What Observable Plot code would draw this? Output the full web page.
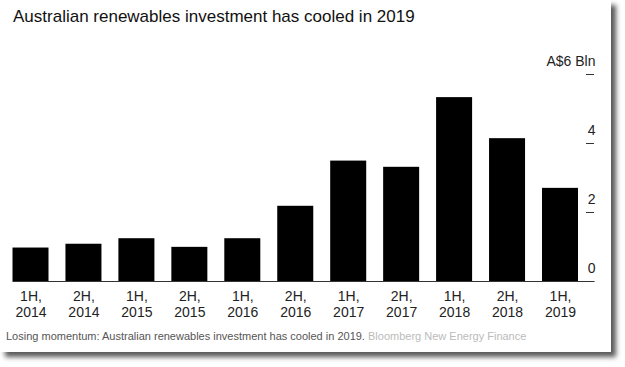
<!DOCTYPE html>
<html>
<head>
<meta charset="utf-8">
<script src="https://cdn.jsdelivr.net/npm/d3@7"></script>
<script src="https://cdn.jsdelivr.net/npm/@observablehq/plot@0.6"></script>
<style>
  html, body { margin: 0; padding: 0; background: #fff; }
  body { font-family: "Liberation Sans", Arial, Helvetica, sans-serif; }
  #card { position: absolute; left: 0; top: 0; width: 611px; height: 352px; background: #fff;
          box-shadow: 5px 5px 5px rgba(0,0,0,0.65); }
  #title { position: absolute; left: 13px; top: 8px; font-size: 17px; line-height: 17px; color: #111; white-space: nowrap; }
  #chart { position: absolute; left: 0; top: 30px; }
  #caption { position: absolute; left: 6px; top: 331px; font-size: 11px; line-height: 11px; color: #555; white-space: nowrap; }
  #caption .src { color: #bbb; }
</style>
</head>
<body>
<div id="card">
  <div id="title">Australian renewables investment has cooled in 2019</div>
  <div id="chart"></div>
  <div id="caption">Losing momentum: Australian renewables investment has cooled in 2019. <span class="src">Bloomberg New Energy Finance</span></div>
</div>
<script>
const halves = ["1H", "2H", "1H", "2H", "1H", "2H", "1H", "2H", "1H", "2H", "1H"];
const years = [2014, 2014, 2015, 2015, 2016, 2016, 2017, 2017, 2018, 2018, 2019];
const values = [0.97, 1.08, 1.24, 0.99, 1.24, 2.18, 3.49, 3.31, 5.33, 4.14, 2.70];
const yTicks = [0, 2, 4, 6];
const yTickLabels = ["0", "2", "4", "A$6 Bln"];

const data = halves.map((h, i) => ({ key: `${h},\n${years[i]}`, value: values[i] }));
const keys = data.map(d => d.key);

const W = 611, H = 295, ML = 12.5, MR = 33;
const chart = Plot.plot({
  width: W,
  height: H,
  marginLeft: ML,
  marginRight: MR,
  marginTop: 44,
  marginBottom: 44,
  style: { fontFamily: '"Liberation Sans", Arial, Helvetica, sans-serif', fontSize: "14px", color: "#222", background: "transparent" },
  x: { type: "band", domain: keys, paddingInner: 0.32, paddingOuter: 0, round: false, axis: null },
  y: { domain: [0, 6], axis: null },
  marks: [
    Plot.barY(data, { x: "key", y: "value", fill: "#000" }),
    Plot.ruleY([0], { stroke: "#333", strokeWidth: 1, insetRight: -16.5 }),
    Plot.ruleY(yTicks.slice(1), { stroke: "#333", strokeWidth: 1, insetLeft: 586 - ML, insetRight: -16 }),
    Plot.text(yTicks, { y: d => d, text: (d, i) => yTickLabels[i], frameAnchor: "right", textAnchor: "end", dx: 17, dy: -13, fill: "#222" }),
    Plot.text(data, { x: "key", y: 0, text: "key", dy: 22.6, lineHeight: 1.15, fill: "#222" })
  ]
});
document.getElementById("chart").appendChild(chart);
</script>
</body>
</html>
